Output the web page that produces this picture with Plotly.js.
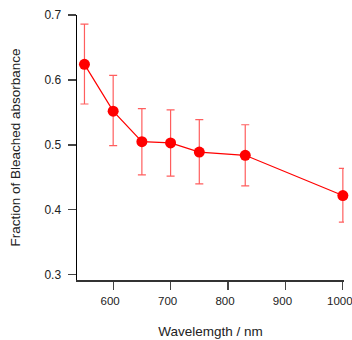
<!DOCTYPE html>
<html><head><meta charset="utf-8">
<script src="https://cdn.plot.ly/plotly-3.0.1.min.js"></script>
<style>html,body{margin:0;padding:0;background:#fff}#chart{width:352px;height:340px}</style>
</head><body><div id="chart"></div>
<script>
const wavelength = [550, 600, 650, 700, 750, 830, 1000];
const fraction = [0.624, 0.552, 0.505, 0.503, 0.489, 0.484, 0.422];
const errUpper = [0.062, 0.055, 0.051, 0.051, 0.050, 0.047, 0.042];
const errLower = [0.061, 0.053, 0.051, 0.051, 0.049, 0.047, 0.041];
const yTicks = [0.3, 0.4, 0.5, 0.6, 0.7];
const xTicks = [600, 700, 800, 900, 1000];

Plotly.newPlot('chart', [{
  x: wavelength, y: fraction, type: 'scatter', mode: 'lines+markers', cliponaxis: false,
  line: {color: '#ff0000', width: 1.2},
  marker: {color: '#ff0000', size: 11},
  error_y: {type: 'data', symmetric: false, array: errUpper, arrayminus: errLower,
            color: 'rgba(255,40,40,0.75)', thickness: 1.2, width: 4}
}], {
  width: 352, height: 340,
  margin: {l: 77, r: 8, t: 15, b: 60},
  paper_bgcolor: '#fff', plot_bgcolor: '#fff',
  showlegend: false,
  font: {family: 'Liberation Sans, Arial, sans-serif', size: 12, color: '#222'},
  xaxis: {range: [537, 1002], tickvals: xTicks, ticks: 'outside', ticklen: 8, tickwidth: 1.2,
          tickcolor: '#444', showline: true, linecolor: '#333', linewidth: 1.5,
          showgrid: false, zeroline: false, ticklabelstandoff: 2, ticklabeloverflow: 'allow',
          ticklabelshift: -3, tickfont: {size: 11.5},
          automargin: false,
          title: {text: 'Wavelemgth / nm', font: {size: 13.5}, standoff: 20}},
  yaxis: {range: [0.292, 0.7], tickvals: yTicks, tickformat: '.1f', ticks: 'outside', ticklen: 8,
          tickwidth: 1.2, tickcolor: '#444', showline: true, linecolor: '#000', linewidth: 1.5,
          showgrid: false, zeroline: false, ticklabelstandoff: 4,
          title: {text: 'Fraction of Bleached absorbance', font: {size: 13.5}, standoff: 20}}
}, {displayModeBar: false, staticPlot: true});
</script></body></html>
